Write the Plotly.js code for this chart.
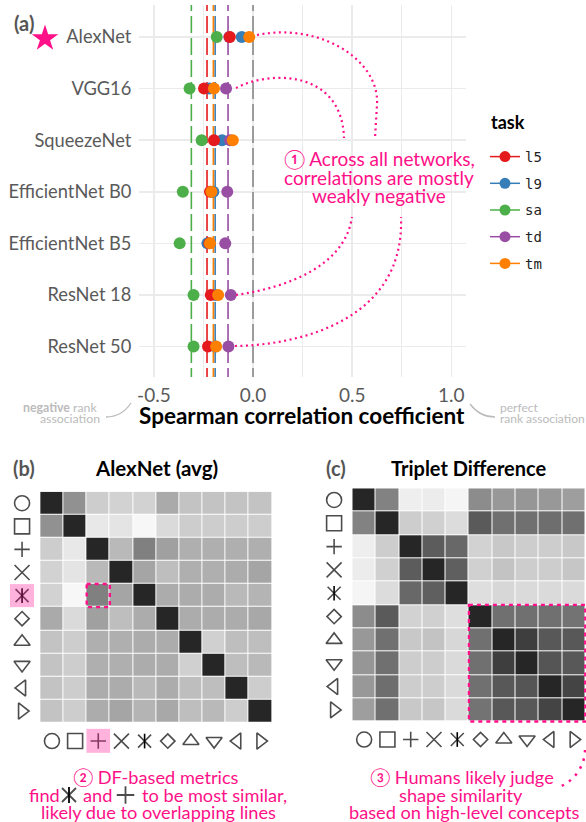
<!DOCTYPE html>
<html><head><meta charset="utf-8">
<script src="https://cdn.plot.ly/plotly-3.0.1.min.js"></script>
<style>html,body{margin:0;padding:0;background:#fff}</style></head>
<body><div id="chart" style="width:586px;height:822px"></div>
<script>
const W=586,H=822;
const networks=['AlexNet','VGG16','SqueezeNet','EfficientNet B0','EfficientNet B5','ResNet 18','ResNet 50'];
const tasks=['l5','l9','sa','td','tm'];
const taskColors={l5:'#E41A1C',l9:'#377EB8',sa:'#4DAF4A',td:'#984EA3',tm:'#FF7F00'};
const l5=[-0.117,-0.247,-0.197,-0.217,-0.22,-0.213,-0.227];
const l9=[-0.057,-0.22,-0.156,-0.2,-0.23,-0.19,-0.19];
const sa=[-0.183,-0.32,-0.259,-0.354,-0.37,-0.30,-0.30];
const td=[-0.12,-0.136,-0.116,-0.13,-0.14,-0.112,-0.124];
const tm=[-0.019,-0.197,-0.102,-0.21,-0.217,-0.176,-0.186];
const taskValues={l5,l9,sa,td,tm};
const taskMeans={l5:-0.232,l9:-0.191,sa:-0.311,td:-0.126,tm:-0.2};
const drawOrder=['l9','td','sa','l5','tm'];
const symbolNames=['circle-open','square-open','cross-thin-open','x-thin-open','x-thin-open','diamond-open','triangle-up-open','triangle-down-open','triangle-left-open','triangle-right-open'];
const symbolSizes=[15,15,11,15,13,11,14,14,14,14];
const alexnetGray=[
[38,145,205,210,210,170,195,195,195,195],
[145,38,232,228,247,218,205,205,205,205],
[205,232,38,185,128,160,175,175,175,175],
[210,228,185,38,165,190,175,175,172,165],
[210,247,128,165,38,172,172,172,185,180],
[170,218,160,190,172,38,172,172,172,168],
[195,205,175,175,172,172,38,208,190,190],
[195,205,175,175,172,172,208,38,190,185],
[195,205,172,172,185,172,190,190,38,205],
[195,205,172,165,180,168,190,185,205,38]];
const tripletGray=[
[38,130,238,236,245,140,152,150,152,158],
[130,38,205,208,220,90,112,112,110,112],
[238,205,38,92,104,210,200,205,205,200],
[236,208,92,38,95,208,195,205,205,198],
[245,220,104,95,38,222,215,218,218,218],
[140,90,210,208,222,38,112,112,112,115],
[152,112,200,195,215,112,38,62,88,88],
[150,112,205,205,218,112,62,38,85,88],
[152,110,205,205,218,112,88,85,38,68],
[158,112,200,198,218,115,88,88,68,38]];
const PINK='#FF1088';
const FONT='Lato, sans-serif';
const idx=[0,1,2,3,4,5,6,7,8,9];
const P=(x,y)=>(x/W).toFixed(5)+','+(1-y/H).toFixed(5);
const traces=[];
const LINE_TOP=-0.834, LINE_BOTTOM=6.59, LONG='17px,5px';
tasks.forEach(t=>traces.push({type:'scatter',mode:'lines',x:[taskMeans[t],taskMeans[t]],y:[LINE_TOP,LINE_BOTTOM],
  line:{color:taskColors[t],width:1.6,dash:LONG},showlegend:false,hoverinfo:'skip',xaxis:'x',yaxis:'y'}));
traces.push({type:'scatter',mode:'lines',x:[0,0],y:[LINE_TOP,LINE_BOTTOM],line:{color:'#888',width:1.6,dash:LONG},showlegend:false,hoverinfo:'skip',xaxis:'x',yaxis:'y'});
drawOrder.forEach(t=>traces.push({type:'scatter',mode:'markers',x:taskValues[t],y:networks.map((n,i)=>i),
  marker:{color:taskColors[t],size:12},showlegend:false,name:t,xaxis:'x',yaxis:'y',cliponaxis:false}));
tasks.forEach(t=>traces.push({type:'scatter',mode:'lines+markers',x:[null],y:[null],name:t,legendgroup:t,
  marker:{color:taskColors[t],size:11},line:{color:taskColors[t],width:1.5},xaxis:'x',yaxis:'y'}));
function panel(z,xa,ya,leftX,bottomY){
  traces.push({type:'heatmap',z:z,x:idx,y:idx,xaxis:xa,yaxis:ya,colorscale:[[0,'#000'],[1,'#fff']],zmin:0,zmax:255,showscale:false,xgap:1,ygap:1});
  const sym={mode:'markers',type:'scatter',xaxis:xa,yaxis:ya,showlegend:false,hoverinfo:'skip',cliponaxis:false};
  const mk={symbol:symbolNames,size:symbolSizes,color:'#000',line:{color:'#111',width:1.6}};
  const bar={symbol:'line-ns-open',size:10.5,color:'#000',line:{color:'#111',width:1.6}};
  traces.push(Object.assign({},sym,{x:idx.map(()=>leftX),y:idx,marker:mk}));
  traces.push(Object.assign({},sym,{x:idx,y:idx.map(()=>bottomY),marker:mk}));
  traces.push(Object.assign({},sym,{x:[leftX,4],y:[4,bottomY],marker:bar}));
}
panel(alexnetGray,'x2','y2',-1.29,10.3);
panel(tripletGray,'x3','y3',-1.29,10.27);
const ov={type:'scatter',mode:'markers',xaxis:'x4',yaxis:'y4',showlegend:false,hoverinfo:'skip',cliponaxis:false};
traces.push(Object.assign({},ov,{x:[45],y:[38.5],marker:{symbol:'star',color:PINK,size:20}}));
traces.push(Object.assign({},ov,{x:[69,125.5],y:[795,795],marker:{symbol:['x-thin-open','cross-thin-open'],size:[14,12.5],color:'#000',line:{color:'#000',width:1.8}}}));
traces.push(Object.assign({},ov,{x:[69],y:[795],marker:{symbol:'line-ns-open',size:11.5,color:'#000',line:{color:'#000',width:1.8}}}));
const hidden={visible:false,showgrid:false,zeroline:false,showticklabels:false};
const text=(t,x,y,size,color,extra)=>Object.assign({text:t,x:x/W,y:1-y/H,xref:'paper',yref:'paper',showarrow:false,
  xanchor:'center',yanchor:'middle',font:{family:FONT,size:size,color:color}},extra||{});
const curve=(d,color,width,dash)=>({type:'path',xref:'paper',yref:'paper',path:d,line:{color:color,width:width,dash:dash},layer:'above'});
const dotted=d=>curve(d,PINK,2.2,'2px,3.5px');
const NOTE=18.2;
const annotations=[
 text('<b>(a)</b>',24,23,20,'#555'),
 text('<b>(b)</b>',24,468,20,'#555'),
 text('<b>(c)</b>',336,468,20,'#555'),
 text('<b>AlexNet (avg)</b>',156,468,20.5,'#000'),
 text('<b>Triplet Difference</b>',469,468,20,'#000'),
 text('<b>task</b>',508,122,18,'#000'),
 text('<b>Spearman correlation coefficient</b>',302,415,22.5,'#000'),
 text('① Across all networks,',379,158,19,PINK),
 text('correlations are mostly',379,177,19,PINK),
 text('weakly negative',379,196,19,PINK),
 text('② DF-based metrics',156,777,NOTE,PINK),
 text('find',27,795,NOTE,PINK,{xanchor:'left'}),
 text('and',81.5,795,NOTE,PINK,{xanchor:'left'}),
 text('to be most similar,',140,795,NOTE,PINK,{xanchor:'left'}),
 text('likely due to overlapping lines',158,812,NOTE,PINK),
 text('③ Humans likely judge',462,777,NOTE,PINK),
 text('shape similarity',461,795,NOTE,PINK),
 text('based on high-level concepts',464,812,NOTE,PINK),
 text('<b>negative</b> rank',99,407,12.3,'#bbb',{xanchor:'right'}),
 text('association',102,418,12.3,'#bbb',{xanchor:'right'}),
 text('perfect',498,407,12,'#bbb',{xanchor:'left'}),
 text('rank association',498,418,12,'#bbb',{xanchor:'left'})
];
const shapes=[
 dotted('M'+P(257,35)+' C'+P(320,22)+' '+P(380,60)+' '+P(377,105)+' L'+P(375,138)),
 dotted('M'+P(236,88)+' C'+P(270,70)+' '+P(342,70)+' '+P(344,138)),
 dotted('M'+P(236,295)+' C'+P(290,287)+' '+P(345,265)+' '+P(352,217)),
 dotted('M'+P(235,346)+' C'+P(300,345)+' '+P(405,320)+' '+P(401,217)),
 curve('M'+P(585,750)+' C'+P(585,762)+' '+P(578,780)+' '+P(557,788),PINK,2.5,'2.5px,6px'),
 curve('M'+P(106,417)+' C'+P(118,417)+' '+P(125,412)+' '+P(131,403),'#bbb',1.3,'solid'),
 curve('M'+P(470,404)+' C'+P(476,412)+' '+P(483,417)+' '+P(495,417),'#bbb',1.3,'solid'),
 {type:'rect',xref:'x2',yref:'y2',x0:-1.81,x1:-0.772,y0:3.5,y1:4.5,fillcolor:'rgba(255,20,147,0.32)',line:{width:0},layer:'above'},
 {type:'rect',xref:'x2',yref:'y2',x0:1.49,x1:2.51,y0:9.77,y1:10.81,fillcolor:'rgba(255,20,147,0.32)',line:{width:0},layer:'above'},
 {type:'rect',xref:'x2',yref:'y2',x0:1.5,x1:2.5,y0:3.5,y1:4.5,line:{color:PINK,width:2.4,dash:'4px,4px'},layer:'above'},
 {type:'rect',xref:'x3',yref:'y3',x0:4.5,x1:9.5,y0:4.5,y1:9.5,line:{color:PINK,width:2.4,dash:'4px,4px'},layer:'above'}
];
const layout={width:W,height:H,margin:{l:0,r:0,t:0,b:0},paper_bgcolor:'#fff',plot_bgcolor:'rgba(0,0,0,0)',hovermode:false,
 font:{family:FONT},
 xaxis:{domain:[139/W,466/W],range:[-0.575,1.074],anchor:'y',tickmode:'array',tickvals:[-0.5,0,0.5,1],ticktext:['-0.5','0.0','0.5','1.0'],
   tickfont:{family:FONT,size:19,color:'#5a5a5a'},showgrid:true,gridcolor:'#ebebeb',gridwidth:1.5,zeroline:false,showline:false,ticks:'outside',ticklen:1,tickcolor:'rgba(0,0,0,0)',
   minor:{tickmode:'array',tickvals:[-0.25,0.25,0.75],showgrid:true,gridcolor:'#ebebeb',gridwidth:1.2,ticks:''}},
 yaxis:{domain:[1-377/H,1-5/H],range:[6.59,-0.62],anchor:'x',tickmode:'array',tickvals:networks.map((n,i)=>i),ticktext:networks,
   tickfont:{family:FONT,size:18.3,color:'#5a5a5a'},showgrid:true,gridcolor:'#ebebeb',gridwidth:1.5,zeroline:false,showline:false,ticks:'outside',ticklen:3,tickcolor:'rgba(0,0,0,0)'},
 xaxis2:Object.assign({},hidden,{domain:[8/W,272/W],range:[-1.897,9.5],anchor:'y2'}),
 yaxis2:Object.assign({},hidden,{domain:[1-757/H,1-491.7/H],range:[10.99,-0.5],anchor:'x2'}),
 xaxis3:Object.assign({},hidden,{domain:[322/W,586/W],range:[-1.81,9.53],anchor:'y3'}),
 yaxis3:Object.assign({},hidden,{domain:[1-757/H,1-488.3/H],range:[11.02,-0.5],anchor:'x3'}),
 xaxis4:Object.assign({},hidden,{domain:[0,1],range:[0,W],anchor:'y4'}),
 yaxis4:Object.assign({},hidden,{domain:[0,1],range:[H,0],anchor:'x4'}),
 legend:{x:485/W,y:1-141/H,xanchor:'left',yanchor:'top',bgcolor:'rgba(0,0,0,0)',tracegroupgap:5.5,itemwidth:30,
   font:{family:'DejaVu Sans Mono, monospace',size:14,color:'#222'}},
 annotations:annotations,shapes:shapes};
Plotly.newPlot('chart',traces,layout,{displayModeBar:false,staticPlot:true});
</script></body></html>
